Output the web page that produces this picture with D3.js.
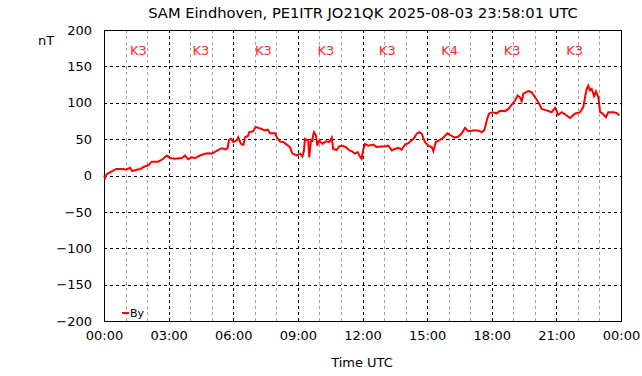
<!DOCTYPE html>
<html lang="en">
<head>
    <meta charset="UTF-8">
    <title>SAM Eindhoven</title>
    <script src="https://d3js.org/d3.v7.min.js"></script>
    <style>
        body { margin: 0; background: #ffffff; }
        text { font-family: "DejaVu Sans", sans-serif; }
    </style>
</head>
<body>
    <div id="chart"></div>

    <script>
        // Data: hours since 00:00 UTC and By in nT
        const hours = [0.00, 0.05, 0.13, 0.36, 0.56, 0.90, 1.02, 1.21, 1.31, 1.52, 1.70, 1.86, 2.06, 2.21, 2.52, 2.75, 2.91, 2.98,
            3.06, 3.30, 3.61, 3.76, 3.91, 4.07, 4.22, 4.46, 4.69, 4.84, 5.00, 5.23, 5.46, 5.65, 5.74, 5.80, 5.90,
            6.00, 6.16, 6.23, 6.36, 6.47, 6.55, 6.70, 6.73, 6.93, 7.04, 7.16, 7.32, 7.44, 7.60, 7.71, 7.94,
            8.02, 8.17, 8.32, 8.48, 8.63, 8.74, 8.95, 9.10, 9.21, 9.28, 9.33, 9.48, 9.53, 9.61, 9.67, 9.72, 9.75,
            9.84, 9.90, 9.99, 10.15, 10.31, 10.46, 10.57, 10.64, 10.80, 10.92, 11.03, 11.23, 11.39, 11.50, 11.65,
            11.78, 11.88, 11.96, 12.04, 12.12, 12.27, 12.50, 12.66, 12.81, 13.04, 13.20, 13.36, 13.51, 13.66,
            13.82, 13.97, 14.13, 14.36, 14.52, 14.64, 14.75, 14.90, 15.05, 15.21, 15.29, 15.40, 15.60, 15.75,
            15.94, 16.11, 16.26, 16.45, 16.61, 16.76, 16.91, 17.14, 17.38, 17.53, 17.65, 17.77, 17.87, 18.03,
            18.23, 18.38, 18.62, 18.77, 18.93, 19.08, 19.20, 19.31, 19.39, 19.47, 19.70, 19.85, 20.01, 20.16,
            20.32, 20.55, 20.78, 20.94, 21.09, 21.25, 21.48, 21.63, 21.86, 22.10, 22.25, 22.33, 22.41, 22.48,
            22.56, 22.64, 22.75, 22.84, 22.95, 23.03, 23.15, 23.30, 23.41, 23.64, 23.80, 23.92];
        const byValues = [0, -3, 2, 5.5, 9, 9, 8, 10.5, 6, 8, 9, 12, 14, 19, 19, 23, 27.5, 26,
            24, 23, 24, 27.5, 22.5, 25, 24, 27.5, 30, 30.5, 30, 34, 37.5, 36, 38, 49, 50.5,
            46, 48, 52.5, 43.5, 42, 52.5, 55, 59.5, 61, 67, 65.5, 64, 62, 63, 58, 58,
            52.5, 46.5, 46, 42.5, 39, 30.5, 27.5, 30, 26, 34, 50.5, 48, 25, 49, 48, 57, 59.5,
            55, 41, 48, 43.5, 47, 46, 52, 36.5, 35, 40, 41, 39, 34.5, 33.5, 30,
            32, 26, 23, 36.5, 43.5, 41, 42.5, 39, 40, 40, 41, 34.5, 36.5, 38,
            35.5, 42.5, 44.5, 50.5, 57.5, 59.5, 57.5, 46, 41, 39, 33.5, 46, 49, 52,
            58, 55, 52, 53.5, 58, 65.5, 61, 62, 62, 59.5, 62, 75.5, 85, 87,
            85.5, 89, 88.5, 91.5, 97.5, 103, 110, 107.5, 102, 112.5, 116, 114.5, 107.5, 101,
            91.5, 89.5, 87, 93, 83.5, 87, 82.5, 79, 85, 87, 94, 107.5, 119, 123.5,
            117, 119, 109, 115.5, 107.5, 87, 85, 80, 87, 87, 86, 82.5];

        // K index labels and the hour at which each one is printed
        const kLabels = ["K3", "K3", "K3", "K3", "K3", "K4", "K3", "K3"];
        const kHours = [1.6, 4.5, 7.4, 10.3, 13.15, 16.05, 18.95, 21.85];

        const yTicks = [200, 150, 100, 50, 0, -50, -100, -150, -200];
        const xTickLabels = ["00:00", "03:00", "06:00", "09:00", "12:00", "15:00", "18:00", "21:00", "00:00"];

        const width = 642;
        const height = 376;
        const margin = { top: 30, right: 21, bottom: 55, left: 104 };

        const svg = d3.select("#chart")
            .append("svg")
            .attr("width", width)
            .attr("height", height);

        const x = d3.scaleLinear().domain([0, 24]).range([margin.left, width - margin.right]);
        const y = d3.scaleLinear().domain([-200, 200]).range([height - margin.bottom, margin.top]);

        // hourly grey grid lines (not on the 3 hour marks)
        const hourLines = d3.range(1, 24).filter(h => h % 3 !== 0);
        svg.selectAll(".hgrid")
            .data(hourLines)
            .join("line")
            .attr("x1", d => Math.round(x(d)) + 0.5).attr("x2", d => Math.round(x(d)) + 0.5)
            .attr("y1", y(200)).attr("y2", y(-200))
            .attr("stroke", "#a0a0a0")
            .attr("stroke-dasharray", "3,3");

        // black 3 hour grid lines
        svg.selectAll(".vgrid")
            .data(d3.range(3, 24, 3))
            .join("line")
            .attr("x1", d => Math.round(x(d)) + 0.5).attr("x2", d => Math.round(x(d)) + 0.5)
            .attr("y1", y(200)).attr("y2", y(-200))
            .attr("stroke", "#000")
            .attr("stroke-dasharray", "3,3");

        svg.selectAll(".ygrid")
            .data(yTicks)
            .join("line")
            .attr("x1", x(0)).attr("x2", x(24))
            .attr("y1", d => Math.round(y(d)) + 0.5).attr("y2", d => Math.round(y(d)) + 0.5)
            .attr("stroke", "#000")
            .attr("stroke-dasharray", "3,3");

        // plot border
        svg.append("rect")
            .attr("x", x(0) + 0.5).attr("y", y(200) + 0.5)
            .attr("width", x(24) - x(0)).attr("height", y(-200) - y(200))
            .attr("fill", "none")
            .attr("stroke", "#000");

        // axes via d3 with no domain/ticks, labels only
        const yAxis = d3.axisLeft(y).tickValues(yTicks).tickSize(0).tickPadding(12);
        const yg = svg.append("g").attr("transform", `translate(${x(0)},0)`).call(yAxis);
        yg.select(".domain").remove();
        yg.selectAll("text").attr("font-size", 13).attr("fill", "#000")
            .attr("font-family", "DejaVu Sans, sans-serif");

        const xAxis = d3.axisBottom(x).tickValues(d3.range(0, 25, 3)).tickSize(0).tickPadding(10)
            .tickFormat((d, i) => xTickLabels[i]);
        const xg = svg.append("g").attr("transform", `translate(0,${y(-200)})`).call(xAxis);
        xg.select(".domain").remove();
        xg.selectAll("text").attr("font-size", 13).attr("fill", "#000")
            .attr("font-family", "DejaVu Sans, sans-serif");

        // K index labels
        svg.selectAll(".klabel")
            .data(kLabels)
            .join("text")
            .attr("x", (d, i) => x(kHours[i]))
            .attr("y", 55)
            .attr("text-anchor", "middle")
            .attr("font-size", 13)
            .attr("fill", "#ff2828")
            .text(d => d);

        // the By line
        const points = hours.map((h, i) => [h, byValues[i]]);
        const line = d3.line().x(d => x(d[0])).y(d => y(d[1]));
        svg.append("path")
            .datum(points)
            .attr("d", line)
            .attr("fill", "none")
            .attr("stroke", "#ff0000")
            .attr("stroke-width", 2);

        // legend
        svg.append("line")
            .attr("x1", 122).attr("x2", 129)
            .attr("y1", 313).attr("y2", 313)
            .attr("stroke", "#ff0000").attr("stroke-width", 2);
        svg.append("text")
            .attr("x", 130).attr("y", 317)
            .attr("font-size", 11)
            .text("By");

        // titles
        svg.append("text")
            .attr("x", 363).attr("y", 18)
            .attr("text-anchor", "middle")
            .attr("font-size", 14.7)
            .text("SAM Eindhoven, PE1ITR JO21QK 2025-08-03 23:58:01 UTC");

        svg.append("text")
            .attr("x", 38).attr("y", 45)
            .attr("font-size", 13)
            .text("nT");

        svg.append("text")
            .attr("x", 362).attr("y", 367)
            .attr("text-anchor", "middle")
            .attr("font-size", 13)
            .text("Time UTC");
    </script>
</body>
</html>
